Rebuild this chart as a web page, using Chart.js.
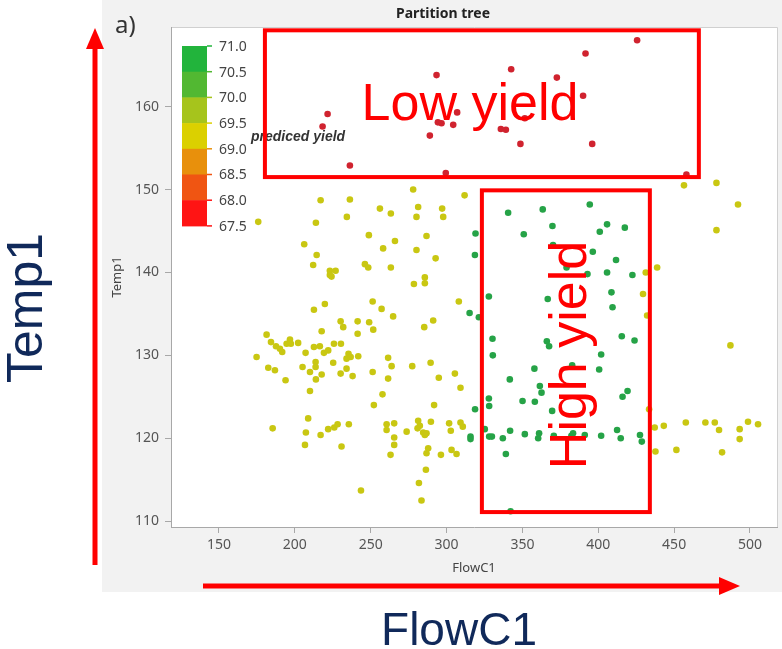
<!DOCTYPE html>
<html>
<head>
<meta charset="utf-8">
<title>Partition tree</title>
<script src="https://cdn.jsdelivr.net/npm/chart.js@4.4.1/dist/chart.umd.min.js"></script>
<style>
  html, body { margin: 0; padding: 0; background: #fff; }
</style>
</head>
<body>
<canvas id="chart" width="782" height="649"></canvas>
<script>
// axis ticks
const flowTicks = [150, 200, 250, 300, 350, 400, 450, 500];
const tempTicks = [110, 120, 130, 140, 150, 160];

// colour scale of predicted yield (top to bottom)
const yieldLevels = ['71.0', '70.5', '70.0', '69.5', '69.0', '68.5', '68.0', '67.5'];
const yieldColors = ['#22b43c', '#52b832', '#a6c41c', '#dbd000', '#e8900c', '#f05512', '#ff1414'];

// [FlowC1, Temp1] per run, grouped by predicted yield
const lowYield = [
    [221.6, 159.1], [218.3, 157.6], [236.3, 152.9], [293.4, 163.8], [289.0, 156.5], [294.3, 158.1],
    [296.7, 158.0], [304.4, 157.8], [307.0, 159.3], [299.5, 152.0], [335.8, 157.3], [339.1, 157.2],
    [342.6, 164.5], [348.7, 155.5], [351.6, 158.6], [372.7, 163.5], [391.6, 166.4], [390.0, 161.3],
    [396.0, 155.5], [425.6, 168.0], [458.1, 151.8]
];

const midYield = [
    // right side
    [456.5, 150.5], [477.9, 150.8], [492.1, 148.2], [477.9, 145.1], [438.8, 140.6], [431.3, 140.0],
    [429.5, 137.4], [432.2, 134.8], [487.1, 131.2], [433.5, 123.5], [437.2, 121.3], [443.2, 121.5],
    [457.7, 121.9], [470.6, 121.9], [476.8, 121.9], [479.6, 121.0], [493.2, 121.1], [493.2, 119.9],
    [498.7, 122.0], [505.3, 121.7], [437.7, 118.4], [451.5, 118.6], [481.6, 118.3],
    // middle, upper
    [311.9, 149.3], [297.1, 147.7], [297.8, 146.7], [292.8, 141.7], [308.1, 136.5], [291.2, 134.2],
    [278.0, 150.0], [256.1, 147.7], [263.3, 147.1], [281.3, 147.9], [280.2, 146.7], [248.8, 144.5],
    [286.8, 144.4], [266.0, 143.8], [258.2, 142.9], [280.2, 142.7], [246.2, 141.0], [248.4, 140.6],
    [263.3, 140.6], [285.7, 139.4], [285.7, 138.7], [278.5, 138.6], [251.3, 136.5], [257.2, 135.6],
    [264.8, 134.7], [249.0, 134.0], [251.7, 133.1], [285.3, 133.4], [261.5, 129.7],
    // left, upper
    [175.9, 146.1], [217.0, 148.7], [236.3, 148.8], [213.9, 146.0], [234.3, 146.7], [206.2, 143.4],
    [214.4, 142.1], [212.1, 140.9], [223.1, 140.2], [226.9, 140.2], [224.2, 139.5], [223.1, 139.7],
    [219.8, 136.2], [212.6, 135.5], [230.2, 134.1], [231.9, 133.4], [241.4, 134.1], [217.7, 132.9],
    [241.4, 132.6], [181.4, 132.5], [184.3, 131.6], [187.6, 131.1], [190.2, 130.8], [194.6, 131.4],
    [196.8, 131.9], [197.4, 131.4], [202.2, 131.5], [191.7, 130.4], [207.1, 130.3], [212.6, 131.0],
    [216.5, 131.1], [219.2, 130.3], [222.0, 130.6], [225.8, 131.4], [230.4, 131.4], [235.4, 130.2],
    [234.1, 129.6], [241.8, 129.9], [174.8, 129.8], [236.8, 129.8],
    // left, lower
    [182.5, 128.5], [186.9, 128.2], [193.9, 127.0], [205.1, 128.6], [210.0, 128.0], [213.7, 129.2],
    [213.7, 128.6], [217.7, 127.7], [213.9, 127.1], [225.3, 129.1], [234.1, 128.4], [230.2, 127.8],
    [238.1, 127.5], [210.0, 125.7], [208.8, 122.4], [185.4, 121.2], [207.3, 120.7], [217.0, 120.4],
    [222.0, 121.1], [226.0, 121.3], [228.2, 121.7], [235.6, 121.7], [206.7, 119.2], [230.8, 119.0],
    [243.6, 113.7],
    // middle, lower
    [263.8, 128.7], [251.3, 128.0], [277.4, 128.7], [289.5, 129.1], [261.5, 127.2], [294.9, 127.3],
    [305.5, 127.8], [309.2, 126.1], [257.8, 125.3], [252.1, 124.0], [291.8, 124.0], [260.5, 121.7],
    [260.5, 121.0], [265.5, 121.8], [273.7, 120.8], [281.3, 122.1], [282.4, 121.5], [280.9, 121.2],
    [284.6, 120.7], [285.7, 120.4], [286.8, 120.6], [289.7, 122.0], [301.7, 121.8], [302.8, 120.9],
    [309.2, 121.9], [310.7, 121.4], [265.5, 120.1], [265.5, 119.2], [287.9, 118.8], [286.8, 118.2],
    [263.1, 118.0], [296.3, 118.0], [303.3, 118.6], [306.6, 118.1], [286.4, 116.2], [281.8, 114.6],
    [283.5, 112.5]
];

const highYield = [
    [340.6, 147.2], [363.4, 147.6], [369.8, 145.6], [350.9, 144.6], [319.1, 144.7], [318.7, 142.1],
    [370.2, 143.3], [327.9, 137.1], [366.7, 136.8], [315.2, 135.1], [321.3, 134.6], [330.3, 132.0],
    [366.1, 131.7], [367.6, 131.1], [330.5, 130.0], [394.4, 148.2], [405.8, 145.8], [401.0, 144.9],
    [417.5, 145.4], [396.4, 142.5], [411.7, 141.5], [405.8, 140.0], [392.9, 139.8], [422.5, 139.7],
    [379.1, 140.6], [408.7, 137.6], [409.4, 135.8], [415.5, 132.3], [423.9, 131.8], [401.9, 130.1],
    [357.9, 128.4], [382.8, 128.8], [400.6, 128.3], [341.7, 127.1], [419.3, 125.7], [416.0, 125.0],
    [412.4, 121.0], [414.8, 120.0], [401.9, 120.3], [427.5, 120.4], [428.7, 119.6], [391.1, 120.4],
    [382.3, 120.3], [383.4, 120.6], [361.5, 126.3], [362.6, 125.5], [327.9, 124.8], [328.1, 123.9],
    [350.1, 124.5], [358.2, 124.4], [318.8, 123.5], [369.6, 123.3], [325.2, 121.1], [341.9, 120.9],
    [315.8, 120.2], [315.8, 119.9], [328.1, 120.2], [329.9, 120.2], [337.1, 120.0], [351.6, 120.5],
    [360.4, 120.0], [361.0, 120.6], [370.7, 120.3], [339.1, 118.1], [342.2, 111.2]
];

// highlighted regions: [FlowC1 from, FlowC1 to, Temp1 from, Temp1 to]
const lowYieldBox = [180.3, 466.3, 151.5, 169.2];
const highYieldBox = [323.3, 434.0, 111.1, 149.9];

const toXY = pts => pts.map(p => ({ x: p[0], y: p[1] }));

Chart.defaults.font.family = "'Noto Sans', 'Open Sans', sans-serif";

// Draws the JMP style frame, colour legend and slide annotations
const decorPlugin = {
    id: 'decor',
    beforeDraw(chart) {
        const ctx = chart.ctx;
        const a = chart.chartArea;
        ctx.save();
        ctx.fillStyle = '#ffffff';
        ctx.fillRect(0, 0, chart.width, chart.height);
        ctx.fillStyle = '#f2f2f2';
        ctx.fillRect(102, 0, chart.width - 102, 592);
        ctx.fillStyle = '#ffffff';
        ctx.fillRect(a.left, a.top, a.right - a.left, a.bottom - a.top);
        ctx.strokeStyle = '#d0d0d0';
        ctx.lineWidth = 1;
        ctx.beginPath();
        ctx.moveTo(a.left, a.top + 0.5);
        ctx.lineTo(a.right + 0.5, a.top + 0.5);
        ctx.lineTo(a.right + 0.5, a.bottom);
        ctx.stroke();

        // title and panel label
        ctx.fillStyle = '#222';
        ctx.font = "bold 14px 'Noto Sans'";
        ctx.textAlign = 'center';
        ctx.textBaseline = 'middle';
        ctx.fillText('Partition tree', 443, 14);
        ctx.fillStyle = '#333';
        ctx.font = "24px 'Noto Sans'";
        ctx.textAlign = 'left';
        ctx.textBaseline = 'alphabetic';
        ctx.fillText('a)', 115, 33);
        ctx.restore();
    },
    afterDatasetsDraw(chart) {
        const ctx = chart.ctx;
        const xs = chart.scales.x;
        const ys = chart.scales.y;
        ctx.save();

        // colour legend
        const barX = 182, barW = 25, barTop = 46, band = 25.7;
        yieldColors.forEach((c, i) => {
            ctx.fillStyle = c;
            ctx.fillRect(barX, barTop + i * band, barW, band + 0.5);
        });
        ctx.lineWidth = 1.5;
        ctx.font = "14px 'Noto Sans'";
        ctx.textBaseline = 'middle';
        ctx.textAlign = 'left';
        yieldLevels.forEach((lab, i) => {
            const y = barTop + i * band;
            ctx.strokeStyle = yieldColors[Math.min(i, yieldColors.length - 1)];
            ctx.beginPath();
            ctx.moveTo(barX + barW, y);
            ctx.lineTo(barX + barW + 5, y);
            ctx.stroke();
            ctx.fillStyle = '#444';
            ctx.fillText(lab, 219, y + 1);
        });
        ctx.fillStyle = '#333';
        ctx.font = "italic bold 14px 'Liberation Sans'";
        ctx.fillText('prediced yield', 251, 137);

        // red region boxes
        ctx.strokeStyle = '#ff0000';
        ctx.lineWidth = 4;
        [lowYieldBox, highYieldBox].forEach(b => {
            const x0 = xs.getPixelForValue(b[0]);
            const x1 = xs.getPixelForValue(b[1]);
            const y0 = ys.getPixelForValue(b[3]);
            const y1 = ys.getPixelForValue(b[2]);
            ctx.strokeRect(x0, y0, x1 - x0, y1 - y0);
        });

        ctx.fillStyle = '#ff0000';
        ctx.font = "52px 'Liberation Sans'";
        ctx.textAlign = 'center';
        ctx.textBaseline = 'alphabetic';
        ctx.fillText('Low yield', 470, 120);
        ctx.save();
        ctx.translate(586, 355);
        ctx.rotate(-Math.PI / 2);
        ctx.fillText('High yield', 0, 0);
        ctx.restore();
        ctx.restore();
    },
    afterDraw(chart) {
        const ctx = chart.ctx;
        ctx.save();
        // axis arrows
        ctx.strokeStyle = '#ff0000';
        ctx.fillStyle = '#ff0000';
        ctx.lineWidth = 5;
        ctx.beginPath();
        ctx.moveTo(95, 565);
        ctx.lineTo(95, 46);
        ctx.moveTo(203, 586);
        ctx.lineTo(722, 586);
        ctx.stroke();
        ctx.beginPath();
        ctx.moveTo(95, 28);
        ctx.lineTo(86, 49);
        ctx.lineTo(104, 49);
        ctx.closePath();
        ctx.fill();
        ctx.beginPath();
        ctx.moveTo(740, 586);
        ctx.lineTo(719, 577);
        ctx.lineTo(719, 595);
        ctx.closePath();
        ctx.fill();

        // big axis names
        ctx.fillStyle = '#10295a';
        ctx.font = "50px 'Liberation Sans'";
        ctx.textAlign = 'center';
        ctx.textBaseline = 'alphabetic';
        ctx.save();
        ctx.translate(42, 308);
        ctx.rotate(-Math.PI / 2);
        ctx.fillText('Temp1', 0, 0);
        ctx.restore();
        ctx.font = "46px 'Liberation Sans'";
        ctx.fillText('FlowC1', 459, 645);
        ctx.restore();
    }
};

const ctx = document.getElementById('chart').getContext('2d');
const chart = new Chart(ctx, {
    type: 'scatter',
    data: {
        datasets: [
            { label: 'low', data: toXY(lowYield), backgroundColor: '#d0232f' },
            { label: 'mid', data: toXY(midYield), backgroundColor: '#c9c712' },
            { label: 'high', data: toXY(highYield), backgroundColor: '#26a347' }
        ]
    },
    options: {
        responsive: false,
        animation: false,
        elements: { point: { radius: 3.3, borderWidth: 0, hoverRadius: 3.3 } },
        layout: { padding: { left: 104, right: 5, top: 27, bottom: 69 } },
        plugins: {
            legend: { display: false },
            tooltip: { enabled: false }
        },
        scales: {
            x: {
                type: 'linear',
                min: 118.4,
                max: 517.8,
                afterFit: s => { s.height = 53; },
                afterBuildTicks: s => { s.ticks = flowTicks.map(v => ({ value: v })); },
                grid: { drawOnChartArea: false, drawTicks: true, tickLength: 6, color: '#a8a8a8' },
                border: { color: '#a8a8a8', width: 1 },
                ticks: { color: '#555', font: { size: 14 }, padding: 4, maxRotation: 0, autoSkip: false },
                title: { display: true, text: 'FlowC1', color: '#444', font: { size: 13 }, padding: { top: 0, bottom: 4 } }
            },
            y: {
                type: 'linear',
                min: 109.3,
                max: 169.6,
                afterFit: s => { s.width = 67; },
                afterBuildTicks: s => { s.ticks = tempTicks.map(v => ({ value: v })); },
                grid: { drawOnChartArea: false, drawTicks: true, tickLength: 6, color: '#a8a8a8' },
                border: { color: '#a8a8a8', width: 1 },
                ticks: { color: '#555', font: { size: 14 }, padding: 6, autoSkip: false },
                title: { display: true, text: 'Temp1', color: '#444', font: { size: 13 }, padding: { top: 5, bottom: 0 } }
            }
        }
    },
    plugins: [decorPlugin]
});
</script>
</body>
</html>
